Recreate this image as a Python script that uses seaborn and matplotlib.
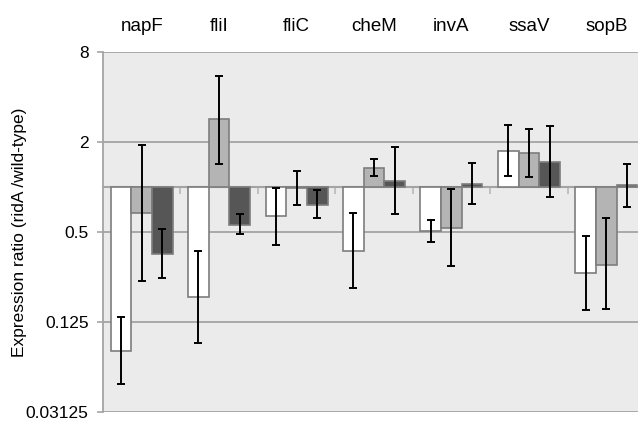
import numpy as np
import pandas as pd
import matplotlib
matplotlib.use('Agg')
import matplotlib.pyplot as plt
import seaborn as sns

# Datos (cociente de expresión ridA / wild-type)
genes = ['napF', 'fliI', 'fliC', 'cheM', 'invA', 'ssaV', 'sopB']
conditions = ['c1', 'c2', 'c3']
ratio_c1 = [0.080, 0.184, 0.64, 0.372, 0.51, 1.73, 0.264]
ratio_c2 = [0.67, 2.83, 0.99, 1.35, 0.533, 1.69, 0.30]
ratio_c3 = [0.357, 0.56, 0.76, 1.105, 1.05, 1.47, 1.03]
err_hi_c1 = [0.136, 0.376, 0.99, 0.665, 0.60, 2.58, 0.47]
err_lo_c1 = [0.048, 0.091, 0.41, 0.21, 0.43, 1.19, 0.15]
err_hi_c2 = [1.9, 5.57, 1.27, 1.53, 0.97, 2.45, 0.62]
err_lo_c2 = [0.235, 1.42, 0.76, 1.19, 0.295, 1.17, 0.153]
err_hi_c3 = [0.52, 0.655, 0.95, 1.84, 1.44, 2.54, 1.43]
err_lo_c3 = [0.247, 0.486, 0.62, 0.655, 0.77, 0.855, 0.73]
y_ticks = [0.03125, 0.125, 0.5, 2, 8]
bar_colors = ['#ffffff', '#b4b4b4', '#565656']

ratios = [ratio_c1, ratio_c2, ratio_c3]
err_hi = [err_hi_c1, err_hi_c2, err_hi_c3]
err_lo = [err_lo_c1, err_lo_c2, err_lo_c3]

# Tabla larga para seaborn (en escala log2, la base de las barras es 1)
df = pd.DataFrame({
    'gene': genes * 3,
    'cond': np.repeat(conditions, len(genes)),
    'log2': np.log2(np.concatenate(ratios)),
})

plt.rcParams['font.family'] = ['Liberation Sans', 'DejaVu Sans']

fig = plt.figure(figsize=(6.38, 4.21), dpi=100)
ax = fig.add_axes([103 / 638, 9 / 421, 542 / 638, 360 / 421])
ax.set_facecolor('#ebebeb')

sns.barplot(data=df, x='gene', y='log2', hue='cond', order=genes,
            hue_order=conditions, palette=bar_colors, edgecolor='#7d7d7d',
            linewidth=1.2, legend=False, ax=ax, zorder=3)

# Barras de error asimétricas
for cont, r, hi, lo in zip(ax.containers, ratios, err_hi, err_lo):
    xs = [p.get_x() + p.get_width() / 2 for p in cont]
    yc = np.log2(r)
    yerr = [yc - np.log2(lo), np.log2(hi) - yc]
    ax.errorbar(xs, yc, yerr=yerr, fmt='none', ecolor='black',
                elinewidth=1.4, capsize=3, capthick=1.4, zorder=4)

# Eje y en log2
ax.set_ylim(np.log2(y_ticks[0]), np.log2(y_ticks[-1]))
ax.set_yticks(np.log2(y_ticks))
ax.set_yticklabels(['0.03125', '0.125', '0.5', '2', '8'], fontsize=12.5)
ax.yaxis.grid(True, color='#a4a4a4', linewidth=1.3, zorder=0)
ax.set_axisbelow(True)
ax.tick_params(axis='y', length=4.3, width=1.2, color='#a4a4a4', pad=6)
ax.set_ylabel('Expression ratio (ridA /wild-type)', fontsize=12.5)
ax.yaxis.set_label_coords(-0.14, 0.5)

# Eje x: etiquetas arriba, línea base en 1
ax.set_xlim(-0.5, len(genes) - 0.5)
ax.set_xlabel('')
ax.spines['bottom'].set_position(('data', 0))
ax.spines['bottom'].set_color('#a4a4a4')
ax.spines['bottom'].set_linewidth(1.5)
ax.spines['bottom'].set_zorder(2)
ax.spines['left'].set_color('#a4a4a4')
ax.spines['left'].set_linewidth(1.3)
ax.spines['top'].set_visible(False)
ax.spines['right'].set_visible(False)
ax.set_xticks(np.arange(0.5, len(genes) - 1), minor=True)
ax.tick_params(axis='x', which='major', bottom=False, top=False,
               labelbottom=False, labeltop=True, labelsize=13.5, pad=12, length=0)
ax.tick_params(axis='x', which='minor', bottom=True, top=False,
               length=5, width=1.2, color='#b8b8b8')

fig.savefig('out.png', dpi=100)
